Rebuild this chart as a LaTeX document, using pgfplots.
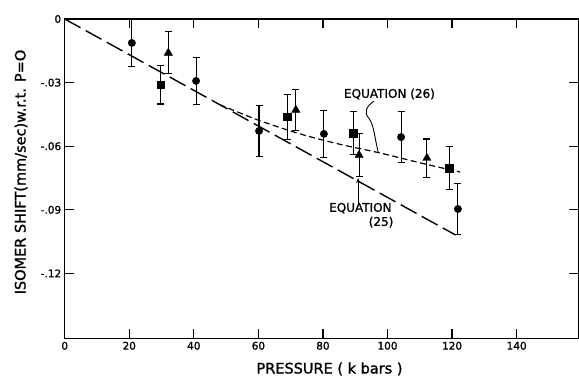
\documentclass[border=0pt]{standalone}
\usepackage{fontspec}
\setmainfont{DejaVu Sans}[BoldFont={DejaVu Sans}, BoldFeatures={FakeBold=1.3}]
\usepackage{pgfplots}
\pgfplotsset{compat=1.18}
\usetikzlibrary{arrows.meta}
\begin{document}
\begin{tikzpicture}[font=\bfseries]
\useasboundingbox (-64.7bp,-38.7bp) rectangle (514.3bp,338.3bp);
\begin{axis}[
 at={(0,0)}, anchor=south west,
 scale only axis, width=513.6bp, height=319.3bp,
 xmin=0, xmax=159.1, ymin=-0.1506, ymax=0,
 axis line style={line width=1.2pt},
 xtick={0,20,40,60,80,100,120,140},
 xticklabels={0,20,40,60,80,100,120,140},
 ytick={-0.12,-0.09,-0.06,-0.03,0},
 yticklabels={-.12,-.09,-.06,-.03,0},
 ticklabel style={font=\bfseries\fontsize{10.5bp}{12bp}\selectfont},
 xlabel={PRESSURE ( k bars )},
 ylabel={ISOMER SHIFT(mm/sec)w.r.t. P=O},
 xlabel style={at={(axis description cs:0.5156,-0.096)}, anchor=center, font=\bfseries\fontsize{14.5bp}{16bp}\selectfont},
 ylabel style={at={(axis description cs:-0.0851,0.5208)}, anchor=center, font=\bfseries\fontsize{14.5bp}{16bp}\selectfont},
 clip=false,
 tick align=inside,
 major tick length=9bp,
 every tick/.append style={black, line width=1.2pt},
 eb/.style={error bars/.cd, y dir=both, y explicit,
   error bar style={line width=1.1pt},
   error mark options={rotate=90, mark size=3.5bp, line width=1.1pt}},
]
% explicit tick marks on all four sides
\pgfplotsinvokeforeach{20,40,60,80,100,120,140}{
  \draw[line width=1.2pt] (axis cs:#1,-0.1506) -- ++(0bp,9bp);
  \draw[line width=1.2pt] (axis cs:#1,0) -- ++(0bp,-9bp);
}
\pgfplotsinvokeforeach{-0.03,-0.06,-0.09,-0.12}{
  \draw[line width=1.2pt] (axis cs:0,#1) -- ++(9bp,0bp);
  \draw[line width=1.2pt] (axis cs:159.1,#1) -- ++(-9bp,0bp);
}
% Equation (25)
\addplot[no marks, line width=1.4pt, dash pattern=on 18bp off 6bp] coordinates {(0,0) (121.1,-0.1019)};
% Equation (26)
\addplot[no marks, line width=1.2pt, dash pattern=on 6bp off 3.5bp, smooth] coordinates {
 (48,-0.0404) (60,-0.0477) (72.9,-0.0542) (85,-0.0590) (97.7,-0.0632) (110,-0.0678) (122.5,-0.0722)};
% circles
\addplot[only marks, mark=*, mark size=3.7bp, black, eb] coordinates {
 (20.8,-0.0113) +- (0,0.0112)
 (40.7,-0.0292) +- (0,0.0110)
 (60.2,-0.0528) +- (0,0.0120)
 (80.3,-0.0542) +- (0,0.0110)
 (104.2,-0.0557) +- (0,0.0120)
 (121.8,-0.0896) +- (0,0.0120)};
% squares
\addplot[only marks, mark=square*, mark size=3.7bp, black, eb] coordinates {
 (29.8,-0.0311) +- (0,0.0090)
 (68.9,-0.0462) +- (0,0.0105)
 (89.4,-0.0538) +- (0,0.0100)
 (119.1,-0.0703) +- (0,0.0100)};
% triangles
\addplot[only marks, mark=triangle*, mark size=4.8bp, black, eb] coordinates {
 (32.1,-0.0160) +- (0,0.0099)
 (71.6,-0.0429) +- (0,0.0095)
 (91.2,-0.0642) +- (0,0.0100)
 (112.2,-0.0656) +- (0,0.0090)};
\node[font=\bfseries\fontsize{12bp}{14bp}\selectfont] at (axis cs:100.6,-0.0354) {EQUATION (26)};
\node[font=\bfseries\fontsize{12bp}{14bp}\selectfont] at (axis cs:91.6,-0.0892) {EQUATION};
\node[font=\bfseries\fontsize{12bp}{14bp}\selectfont] at (axis cs:98,-0.0958) {(25)};
\draw[-{Stealth[length=5bp,width=4bp]}, line width=0.8pt] (axis cs:90.9,-0.0868) -- (axis cs:90.9,-0.0750);
\draw[line width=0.9pt] (axis cs:95.8,-0.0388) .. controls (axis cs:93.5,-0.041) and (axis cs:92.5,-0.044) .. (axis cs:94.3,-0.0470) .. controls (axis cs:95.8,-0.050) and (axis cs:96,-0.056) .. (axis cs:97.1,-0.0627);
\end{axis}
\end{tikzpicture}
\end{document}
